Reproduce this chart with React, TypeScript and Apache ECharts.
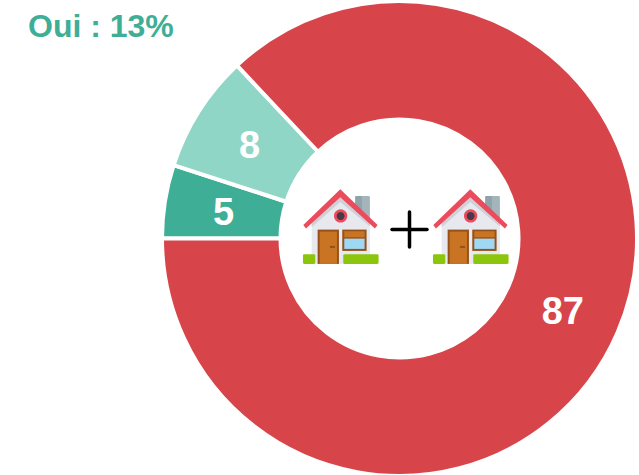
import React, { useEffect, useRef } from "react";
import * as echarts from "echarts";

const sliceNames = ["Oui A", "Oui B", "Non"];
const sliceValues = [5, 8, 87];
const sliceColors = ["#3FAE96", "#90D6C6", "#D7444A"];
const titleText = "Oui : 13%";

// House icon, drawn in a 3x local space
function house(x: number, y: number) {
  const poly = (points: number[][], fill: string) => ({ type: "polygon", shape: { points }, style: { fill } });
  const rect = (x: number, y: number, width: number, height: number, fill: string, r = 0) => ({
    type: "rect", shape: { x, y, width, height, r }, style: { fill },
  });
  return {
    type: "group", x, y, scaleX: 1 / 3, scaleY: 1 / 3,
    children: [
      rect(226, 78, 44, 70, "#A3B4BB", 4),
      rect(226, 78, 20, 70, "#8FA3AB", 4),
      poly([[95, 160], [181, 80], [270, 160], [270, 282], [95, 282]], "#E8E9EF"),
      poly([[95, 160], [181, 80], [270, 160], [270, 170], [181, 96], [95, 172]], "#CFD0D8"),
      poly([[70, 165], [181, 58], [293, 165], [285, 176], [181, 82], [78, 176]], "#EC4B5C"),
      { type: "circle", shape: { cx: 182, cy: 138, r: 20 }, style: { fill: "#EC4B5C" } },
      { type: "circle", shape: { cx: 182, cy: 138, r: 12 }, style: { fill: "#46394A" } },
      rect(113, 179, 64, 103, "#96501A"),
      rect(119, 185, 52, 97, "#C97423"),
      rect(150, 228, 15, 6, "#96501A"),
      rect(187, 179, 73, 64, "#96501A"),
      rect(193, 184, 61, 18, "#C97423"),
      rect(193, 206, 61, 31, "#9FD8F2"),
      rect(69, 253, 37, 29, "#8BC50C", 4),
      rect(190, 253, 106, 29, "#8BC50C", 4),
    ],
  };
}

const labelShift = [
  { dx: 3, dy: 2 },
  { dx: 3, dy: 4 },
  { dx: -3, dy: 1 },
];

export default function App() {
  const ref = useRef<HTMLDivElement>(null);
  useEffect(() => {
    const chart = echarts.init(ref.current!, null, { renderer: "svg" });
    chart.setOption({
      animation: false,
      title: {
        text: titleText,
        left: 23,
        top: 5,
        textStyle: { color: "#3FAE96", fontSize: 32, fontWeight: "bold", fontFamily: "Liberation Sans" },
      },
      series: [
        {
          type: "pie",
          center: [399.5, 238.5],
          radius: [119, 237.5],
          startAngle: 180,
          clockwise: true,
          avoidLabelOverlap: false,
          silent: true,
          data: sliceValues.map((value, i) => ({
            name: sliceNames[i],
            value,
            itemStyle: { color: sliceColors[i] },
          })),
          itemStyle: { borderColor: "#ffffff", borderWidth: 4 },
          label: {
            show: true,
            position: "inside",
            formatter: "{c}",
            color: "#ffffff",
            fontSize: 38,
            fontWeight: "bold",
            fontFamily: "Liberation Sans",
          },
          labelLayout: (p: any) => labelShift[p.dataIndex],
          labelLine: { show: false },
        },
      ],
      graphic: [
        house(280, 170),
        house(410, 170),
        { type: "line", shape: { x1: 392, y1: 229.5, x2: 427, y2: 229.5 }, style: { stroke: "#000000", lineWidth: 3.5, lineCap: "round" } },
        { type: "line", shape: { x1: 409.5, y1: 212, x2: 409.5, y2: 247 }, style: { stroke: "#000000", lineWidth: 3.5, lineCap: "round" } },
      ],
    });
    return () => chart.dispose();
  }, []);
  return <div ref={ref} style={{ position: "absolute", left: 0, top: 0, width: 639, height: 475 }} />;
}
